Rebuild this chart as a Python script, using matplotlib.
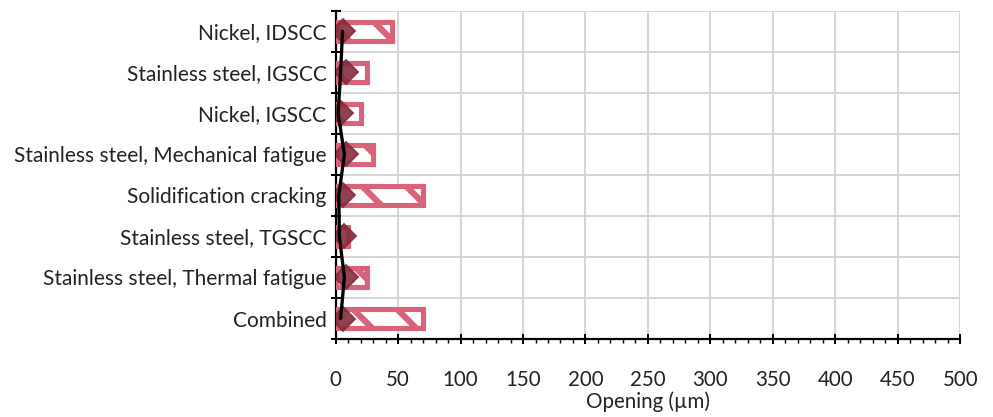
import numpy as np
import matplotlib
matplotlib.use("Agg")
import matplotlib.pyplot as plt
from matplotlib.ticker import MultipleLocator, FixedLocator

plt.rcParams['font.family'] = ['Lato', 'DejaVu Sans']
plt.rcParams['hatch.linewidth'] = 3.4

categories = ["Nickel, IDSCC", "Stainless steel, IGSCC", "Nickel, IGSCC",
              "Stainless steel, Mechanical fatigue", "Solidification cracking",
              "Stainless steel, TGSCC", "Stainless steel, Thermal fatigue", "Combined"]
max_opening = [45, 25, 20, 30, 70, 10, 25, 70]
mean_opening = [6, 8, 4.5, 8.5, 5.5, 7, 8.5, 5.5]
median_opening = [5.5, 4, 2, 7, 2.5, 3, 7, 4]

dpi = 132
fig, ax = plt.subplots(figsize=(993 / dpi, 417 / dpi), dpi=dpi)
fig.subplots_adjust(left=0.338, right=0.967, top=0.974, bottom=0.187)

y = np.arange(len(categories))
pink = "#D9647A"

ax.barh(y, max_opening, height=0.45, color="white", edgecolor=pink,
        linewidth=2.8, hatch="\\", zorder=3)
ax.plot(mean_opening, y, linestyle="none", marker="D", markersize=9,
        color="#862C3E", alpha=0.9, zorder=4)
ax.plot(median_opening, y, color="black", linewidth=1.8, zorder=5,
        solid_joinstyle="round", solid_capstyle="round")

ax.set_xlim(0, 500)
ax.set_ylim(len(categories) - 0.5, -0.5)
ax.set_yticks(y)
ax.set_yticklabels(categories, fontsize=11.4, color="#222222")
ax.yaxis.set_minor_locator(FixedLocator(np.arange(-0.5, len(categories), 1.0)))
ax.tick_params(axis="y", which="major", length=0, pad=5)
ax.tick_params(axis="y", which="minor", direction="inout", length=5.5, width=1.1)

ax.xaxis.set_major_locator(MultipleLocator(50))
ax.xaxis.set_minor_locator(MultipleLocator(10))
ax.tick_params(axis="x", which="major", direction="inout", length=5.5, width=1.1,
               labelsize=11.2, pad=14, labelcolor="#222222")
ax.tick_params(axis="x", which="minor", direction="out", length=2, width=0.8)
ax.set_xlabel("Opening (µm)", fontsize=11.2, labelpad=1, color="#222222")

ax.grid(axis="x", which="major", color="#D4D4D4", linewidth=1.0, zorder=0)
ax.grid(axis="y", which="minor", color="#D4D4D4", linewidth=1.0, zorder=0)
ax.set_axisbelow(True)

for side in ["top", "right"]:
    ax.spines[side].set_visible(False)
ax.spines["left"].set_linewidth(1.2)
ax.spines["bottom"].set_linewidth(1.2)

fig.savefig("out.png", dpi=dpi)
